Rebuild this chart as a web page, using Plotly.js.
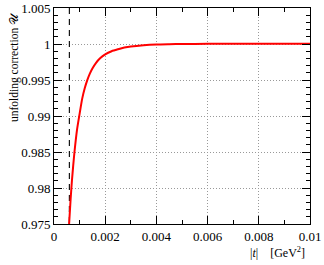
<!DOCTYPE html>
<html><head><meta charset="utf-8">
<script src="https://cdn.plot.ly/plotly-3.0.1.min.js"></script>
<style>html,body{margin:0;padding:0;background:#fff}#c{width:324px;height:265px}</style>
</head><body><div id="c"></div>
<script>
const tVals = [0.00059, 0.00065, 0.00070, 0.00075, 0.00080, 0.00090, 0.00100, 0.00110, 0.00120, 0.00130, 0.00140, 0.00150, 0.00165, 0.00180, 0.00200, 0.00225, 0.00250, 0.00275, 0.00300, 0.00350, 0.00400, 0.00450, 0.00500, 0.00600, 0.00700, 0.00800, 0.00900, 0.01000];
const uVals = [0.9750, 0.9785, 0.9810, 0.9831, 0.9850, 0.9881, 0.9903, 0.99238, 0.99384, 0.99498, 0.99588, 0.99660, 0.99742, 0.99801, 0.99856, 0.99900, 0.99927, 0.99950, 0.99966, 0.99984, 0.99994, 0.99998, 1.00001, 1.00002, 1.00003, 1.00003, 1.00003, 1.00003];
const cutT = 0.0006;
const xTicks = [0, 0.002, 0.004, 0.006, 0.008, 0.01];
const xTickText = ['0', '0.002', '0.004', '0.006', '0.008', '0.01'];
const yTicks = [0.975, 0.98, 0.985, 0.99, 0.995, 1, 1.005];
const yTickText = ['0.975', '0.98', '0.985', '0.99', '0.995', '1', '1.005'];

const fam = "'Liberation Serif', 'Times New Roman', Times, serif";
const font = {family: fam, size: 13, color: '#000'};
const axisCommon = {
  showline: true, linecolor: '#000', linewidth: 1, mirror: 'ticks',
  ticks: 'inside', ticklen: 8, tickcolor: '#000', tickwidth: 1,
  showgrid: true, gridcolor: '#999', griddash: '1px,2px', gridwidth: 1,
  zeroline: false, tickfont: font, tickmode: 'array'
};
const data = [
  {x: [cutT, cutT], y: [1.005, 0.975], mode: 'lines', line: {color: '#000', width: 1.1, dash: '6px,5px'}, hoverinfo: 'skip'},
  {x: tVals, y: uVals, mode: 'lines', line: {color: '#ff0000', width: 2, shape: 'spline', smoothing: 0.6}}
];
const layout = {
  width: 324, height: 265, showlegend: false,
  margin: {l: 54, r: 14, t: 8, b: 41},
  paper_bgcolor: '#fff', plot_bgcolor: '#fff', font: font,
  xaxis: Object.assign({}, axisCommon, {range: [0, 0.01], tickvals: xTicks, ticktext: xTickText,
    minor: {dtick: 0.001, ticks: 'inside', ticklen: 4, tickcolor: '#000', showgrid: false}}),
  yaxis: Object.assign({}, axisCommon, {range: [0.975, 1.005], tickvals: yTicks, ticktext: yTickText,
    minor: {dtick: 0.001, ticks: 'inside', ticklen: 4, tickcolor: '#000', showgrid: false}}),
  annotations: [
    {text: 'unfolding correction 𝒰', textangle: -90, xref: 'paper', yref: 'paper', x: -0.19, y: 0.99,
     xanchor: 'left', yanchor: 'top', showarrow: false, font: {family: fam, size: 11.5, color: '#000'}},
    {text: '|<i>t</i>|&nbsp;&nbsp;&nbsp;&nbsp;[GeV<sup>2</sup>]', xref: 'paper', yref: 'paper', x: 0.988, y: -0.176,
     xanchor: 'right', yanchor: 'bottom', showarrow: false, font: {family: fam, size: 12, color: '#000'}}
  ]
};
Plotly.newPlot('c', data, layout, {staticPlot: true});
</script></body></html>
